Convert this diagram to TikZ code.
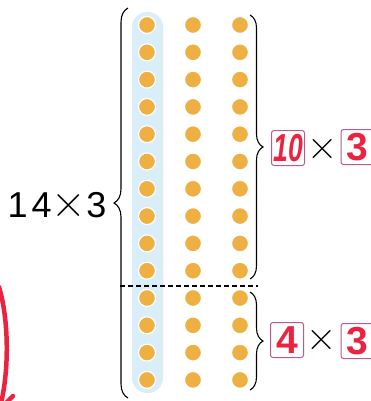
\documentclass[tikz,border=0pt]{standalone}
\usepackage{fontspec}
\setsansfont{Liberation Sans}
\usetikzlibrary{decorations.pathreplacing}
\definecolor{beadcolor}{HTML}{EEB043}
\definecolor{stripcolor}{HTML}{D9EEF8}
\definecolor{answercolor}{HTML}{EC2340}
\definecolor{boxcolor}{HTML}{B65C8E}
\tikzset{
    font=\sffamily,
    % --- beads and braces ---
    bead/.style={circle, fill=beadcolor, draw=white, line width=1.2pt, minimum size=17pt, inner sep=0pt},
    bracebar/.style={draw, line width=1.1pt, decorate, decoration={brace, amplitude=#1}},
    splitline/.style={line width=1.1pt, dash pattern=on 5pt off 3pt},
    % --- labels ---
    plaintext/.style={inner sep=0pt, font=\fontsize{36}{36}\selectfont\sffamily},
    timesign/.style={inner sep=0pt, font=\fontsize{42}{42}\selectfont\rmfamily},
    answerbox/.style={draw=boxcolor, line width=1pt, rounded corners=2.5pt, minimum width=33pt, minimum height=35pt,
                      inner sep=0pt, text=answercolor, font=\fontsize{39}{39}\selectfont\sffamily\bfseries},
    redstroke/.style={draw=answercolor, line width=4.5pt, line cap=round}
}

\begin{document}
\begin{tikzpicture}[x=1pt,y=-1pt]
    \useasboundingbox (0,0) rectangle (371,401);
    \clip (0,0) rectangle (371,401);

    \fill[stripcolor, rounded corners=15pt] (132,12) rectangle (163,393);

    \foreach \r in {1,...,14}
      \foreach \c/\x in {1/147,2/193,3/240}
        \node[bead] (b-\r-\c) at (\x,{25+(\r-1)*27.3}) {};

    \draw[splitline] (120,286) -- (258,286);

    % braces
    \draw[bracebar=14pt] (128,398) -- (128,8);
    \draw[bracebar=13pt] (250,15) -- (250,279);
    \draw[bracebar=13pt] (250,292) -- (250,390);

    \node[plaintext] (lhs) at (57,205) {1\kern4pt4{\rmfamily\fontsize{48}{48}\selectfont ×}3};

    \node[answerbox] (tens) at (288,148) {\itshape\scalebox{0.68}[1]{10}};
    \node[timesign] (timesA) at (323,149) {×};
    \node[answerbox] (colsA) at (357.5,147) {3};

    \node[answerbox] (ones) at (287,340) {4};
    \node[timesign] (timesB) at (322,340) {×};
    \node[answerbox] (colsB) at (357.5,341) {3};

    \draw[redstroke] (-1,287) .. controls (9,320) and (9,370) .. (1,403);
    \draw[redstroke] (6,403) -- (13,396);
\end{tikzpicture}
\end{document}
